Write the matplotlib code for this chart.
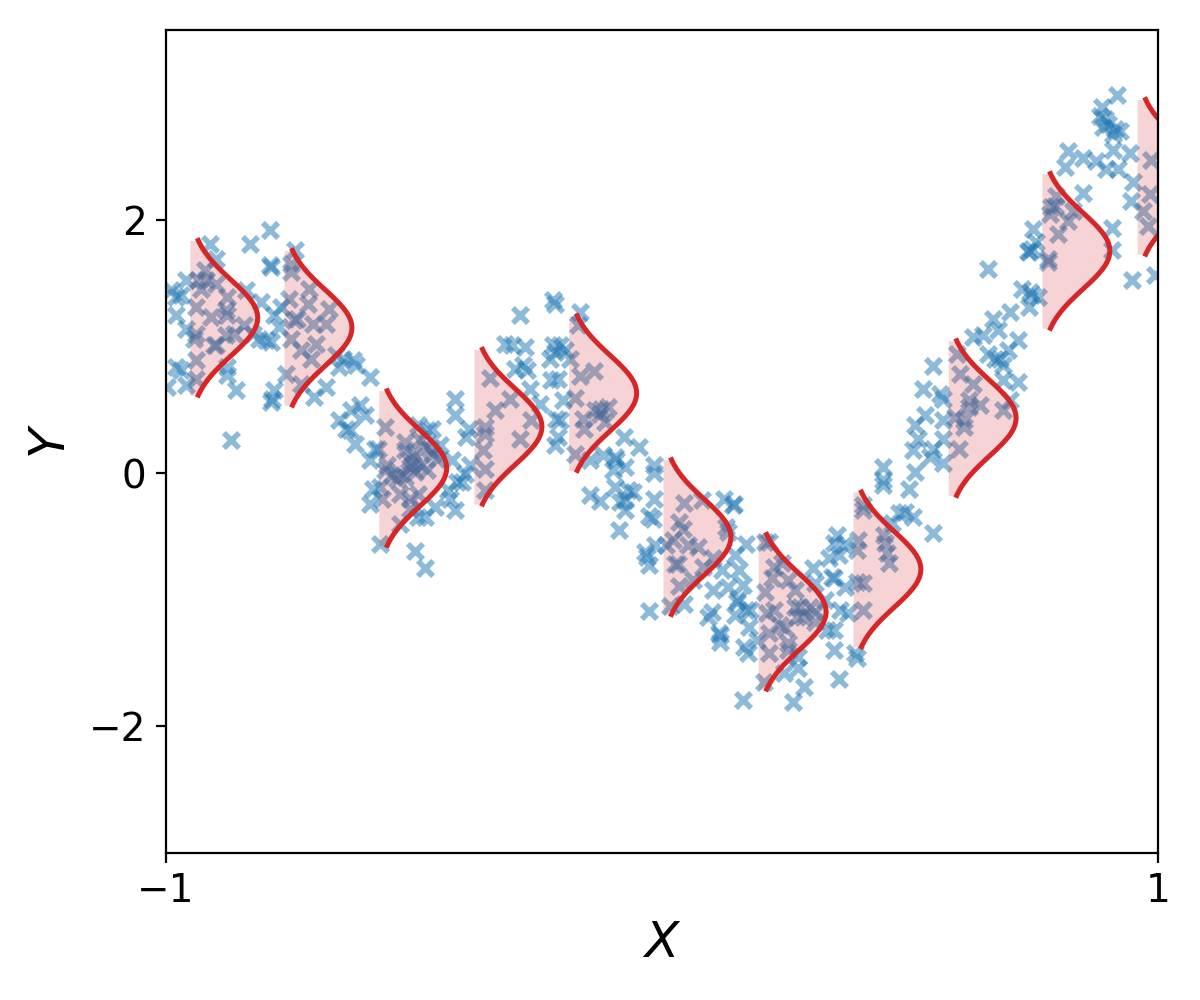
import numpy as np
import matplotlib
matplotlib.use("Agg")
import matplotlib.pyplot as plt

## scatter points from left to right
x_a = [-0.911,-0.899,-0.830,-0.790,-0.790,-0.788,-0.739,-0.748,-0.748,-0.921,-0.936,-0.899,-0.919,-0.929,-0.990,-0.970,-0.980,-0.960,-0.876,-0.839,-0.808,-0.879,-0.876,-0.909,-0.940,-0.980,-0.960,-0.940,-0.943,-0.879,-0.842,-0.825,-0.782,-0.768,-0.772,-0.798,-0.812,-0.788,-0.899,-0.903,-0.862,-0.940,-0.980,-0.970,-0.876,-0.876,-0.940,-0.960,-0.997,-0.859,-0.869,
       -0.751,-0.711,-0.714,-0.671,-0.735,-0.741,-0.704,-0.677,-0.748,-0.728,-0.698,-0.708,-0.758,-0.728,-0.782,-0.788,-0.786,-0.677,-0.701,-0.657,-0.644,-0.651,-0.651,-0.627,-0.637]
y_a = [1.812,1.693,1.812,1.917,1.641,1.628,1.759,1.654,1.588,1.601,1.522,1.496,1.522,1.457,1.443,1.404,1.391,1.522,1.391,1.443,1.351,1.286,1.246,1.233,1.312,1.246,1.141,1.101,1.062,1.088,1.167,1.101,1.246,1.312,1.154,1.049,1.062,1.036,1.009,1.009,1.101,0.891,0.838,0.812,0.838,0.772,0.746,0.693,0.680,0.654,0.259,
       1.378,1.457,1.338,1.299,1.220,1.207,1.180,1.180,1.062,0.970,1.022,0.904,0.786,0.707,0.654,0.562,0.588,0.680,0.601,0.930,0.904,0.838,0.417,0.496,0.351]

x_b = [-0.219,-0.286,-0.316,-0.303,-0.276,-0.226,-0.206,-0.622,-0.616,-0.589,-0.347,-0.296,-0.280,-0.273,-0.306,-0.266,-0.246,-0.337,-0.264,-0.286,-0.357,-0.357,-0.360,-0.357,-0.357,-0.609,-0.599,-0.619,-0.629,-0.417,-0.417,-0.390,-0.396,-0.558,-0.579,-0.589,-0.572,
       -0.491,-0.474,-0.464,-0.518,-0.518,-0.488,-0.478,-0.448,-0.461,-0.501,-0.454,-0.555,-0.485,-0.508,-0.528,-0.545,-0.498,-0.474,-0.558,-0.535,-0.518,-0.424,-0.569,-0.528,-0.491,-0.582,-0.508,-0.589,-0.565,-0.508,-0.528,-0.491,-0.478,-0.458,-0.431,-0.414,-0.404,-0.397,-0.387,-0.427,-0.417,-0.569,-0.498,-0.478,-0.501,-0.468,-0.511]
y_b = [1.365,1.247,1.023,1.010,0.997,0.904,1.010,0.891,0.852,0.760,0.755,0.826,0.852,0.812,0.589,0.668,0.549,0.497,0.418,0.273,0.365,0.312,0.181,0.036,-0.135,0.536,0.457,0.228,0.339,0.589,0.457,0.352,0.286,0.365,0.194,0.102,0.194,
       0.378,0.339,0.352,0.247,0.181,0.260,0.207,0.220,0.155,0.155,0.115,0.062,0.062,0.049,-0.003,-0.017,0.010,0.023,0.023,-0.043,-0.030,0.102,-0.109,-0.161,-0.161,-0.122,-0.201,-0.246,-0.201,-0.280,-0.398,-0.346,-0.346,-0.267,-0.135,-0.069,-0.069,-0.010,0.062,-0.201,-0.293,-0.556,-0.617,-0.753,0.076,0.194,0.102]

x_c = [-0.166,-0.169,-0.216,-0.219,-0.196,-0.186,-0.216,-0.166,-0.137,-0.209,-0.223,-0.199,-0.176,-0.213,-0.206,-0.209,-0.216,-0.159,-0.157,-0.135,-0.122,-0.108,-0.125,-0.115,-0.176,-0.145,-0.076,-0.046,-0.118,-0.095,-0.092,-0.098,-0.075,-0.016,-0.016,-0.145,-0.125,-0.095,-0.068,-0.058,-0.075,-0.075,-0.085,-0.016,-0.026,-0.018,-0.086,-0.014,-0.034,-0.031,-0.026,-0.026,
       0.045,0.035,0.043,0.023,0.053,0.073,0.009,0.026,0.033,0.080,0.126,0.146,0.130,0.134,0.103,0.083,0.035,0.063,0.016,0.045,0.170,0.147,0.120,0.156,0.103,0.134,0.164,0.154,0.147,0.170,0.100,0.093,0.115]
y_c = [1.273,1.168,1.339,1.010,0.970,0.904,0.957,0.765,0.805,0.747,0.733,0.576,0.594,0.431,0.418,0.286,0.220,0.431,0.352,0.497,0.510,0.523,0.470,0.404,0.149,0.102,0.286,0.207,0.141,0.128,0.102,0.023,0.049,0.062,0.002,-0.174,-0.222,-0.109,-0.135,-0.148,-0.214,-0.293,-0.227,-0.201,-0.340,-0.359,-0.451,-0.569,-0.622,-0.661,-0.728,-1.088,
       -0.235,-0.385,-0.438,-0.530,-0.569,-0.582,-0.569,-0.714,-0.714,-0.214,-0.201,-0.240,-0.424,-0.464,-0.674,-0.740,-0.893,-0.846,-1.051,-1.030,-0.556,-0.648,-0.767,-0.767,-0.919,-0.898,-0.885,-0.990,-1.122,-1.082,-1.096,-1.135,-1.259]

x_d = [0.144,0.151,0.178,0.176,0.116,0.116,0.166,0.174,0.164,0.191,0.208,0.215,0.242,0.225,0.221,0.255,0.208,0.269,0.225,0.211,0.269,0.279,0.299,0.309,0.272,0.285,0.238,0.248,0.309,0.215,0.255,0.255,0.215,0.205,0.245,0.275,0.275,0.287,0.265,
       0.332,0.346,0.346,0.390,0.393,0.356,0.305,0.336,0.353,0.346,0.366,0.356,0.342,0.346,0.368,0.359,0.376,0.309,0.329,0.396,0.393,0.406,0.393,0.406,0.406,0.405,0.447,0.450,0.453,0.457,0.463,0.477]
y_d = [-0.252,-1.016,-1.081,-1.213,-1.279,-1.331,-1.371,-1.424,-1.792,-1.318,-0.542,-0.542,-0.713,-0.739,-0.831,-0.845,-0.937,-0.924,-1.081,-1.108,-1.055,-1.055,-1.055,-1.095,-1.134,-1.134,-1.200,-1.226,-1.174,-1.266,-1.345,-1.397,-1.424,-1.647,-1.581,-1.450,-1.542,-1.687,-1.805,
       -1.239,-1.239,-1.397,-1.424,-1.463,-1.626,-0.752,-0.674,-0.489,-0.555,-0.568,-0.647,-0.818,-0.831,-0.897,-1.081,-1.108,-0.871,-1.003,-0.529,-0.608,-0.871,-0.858,-1.081,-0.292,-0.252,-0.489,-0.555,-0.634,-0.713,-0.397,-0.318]

x_e = [0.658,0.739,0.725,0.742,0.745,0.739,0.759,0.702,0.668,0.678,0.628,0.648,0.717,0.698,0.658,0.682,0.672,0.688,0.688,0.717,0.702,0.688,0.594,0.600,0.547,0.628,0.527,0.561,0.567,0.618,0.641,0.591,0.608,0.608,0.618,0.530,0.510,0.567,0.517,0.567,0.507,0.547,0.540,0.598,0.567,0.510,0.446,0.446,0.446,0.497,0.490,0.507,0.547]
y_e = [1.614,1.746,1.456,1.430,1.404,1.312,1.391,1.272,1.220,1.127,1.075,1.088,1.054,0.970,0.943,0.904,0.904,0.851,0.738,0.719,0.575,0.496,0.943,0.780,0.846,0.706,0.667,0.627,0.588,0.575,0.535,0.443,0.417,0.364,0.522,0.456,0.377,0.417,0.272,0.272,0.180,0.193,0.127,0.193,0.080,0.009,0.048,-0.057,-0.096,-0.128,-0.307,-0.346,-0.470]

x_f = [0.918,0.888,0.883,0.893,0.899,0.889,0.913,0.923,0.910,0.819,0.849,0.876,0.910,0.943,0.812,0.896,0.920,0.985,0.950,0.946,0.849,0.795,0.785,0.782,0.792,0.819,0.829,0.799,0.748,0.755,0.738,0.745,0.778,0.778,0.908,0.908,0.948,0.993,0.970,0.983,0.979]
y_f = [2.990,2.890,2.824,2.797,2.758,2.732,2.718,2.705,2.679,2.547,2.487,2.468,2.553,2.526,2.416,2.403,2.403,2.474,2.297,2.153,2.213,2.192,2.100,2.047,2.113,1.995,2.074,1.889,1.929,1.824,1.758,1.771,1.692,1.666,1.937,1.766,1.529,1.568,2.074,2.205,1.955]

## where each bell sits: left edge and centre
bell_x0 = [-0.952,-0.762,-0.571,-0.379,-0.188,0.002,0.194,0.385,0.577,0.766,0.958]
bell_mean = [1.227,1.148,0.040,0.367,0.632,-0.505,-1.095,-0.760,0.435,1.755,2.340]

## bell outline, offset from centre against width (same for all of them)
bell_dy = [0,0.03,0.06,0.09,0.12,0.15,0.18,0.21,0.24,0.27,0.30,0.33,0.36,0.39,0.42,0.45,0.48,0.51,0.54,0.57,0.60,0.611]
bell_dx = [0.1370,0.1363,0.1343,0.1310,0.1265,0.1209,0.1144,0.1072,0.0995,0.0914,0.0831,0.0748,0.0667,0.0589,0.0514,0.0445,0.0381,0.0323,0.0271,0.0225,0.0185,0.0172]

x_ticks = [-1, 1]
y_ticks = [-2, 0, 2]

point_x = x_a + x_b + x_c + x_d + x_e + x_f
point_y = y_a + y_b + y_c + y_d + y_e + y_f

fig, ax = plt.subplots(figsize=(6, 5), dpi=200)
fig.subplots_adjust(left=0.1383, right=0.965, top=0.97, bottom=0.147)

ax.scatter(point_x, point_y, marker="x", s=30, linewidths=2, color="tab:blue", alpha=0.5)

# mirror the half outline so it runs top to bottom
dy = np.concatenate([bell_dy[:0:-1], [-v for v in bell_dy]])
dx = np.concatenate([bell_dx[:0:-1], bell_dx])

for x0, mean in zip(bell_x0, bell_mean):
    ax.plot(x0 + dx, mean + np.array(dy), color="tab:red", lw=1.8)
    ax.fill_betweenx(mean + np.array(dy), x0, x0 + dx, color="tab:red", alpha=0.2, linewidth=0)

ax.set_xlim(-1, 1)
ax.set_ylim(-3, 3.5)
ax.set_xticks(x_ticks)
ax.set_yticks(y_ticks)
ax.tick_params(labelsize=14)
ax.set_xlabel("$X$", fontsize=18, labelpad=3)
ax.set_ylabel("$Y$", fontsize=18, labelpad=5)

plt.savefig("out.png")
